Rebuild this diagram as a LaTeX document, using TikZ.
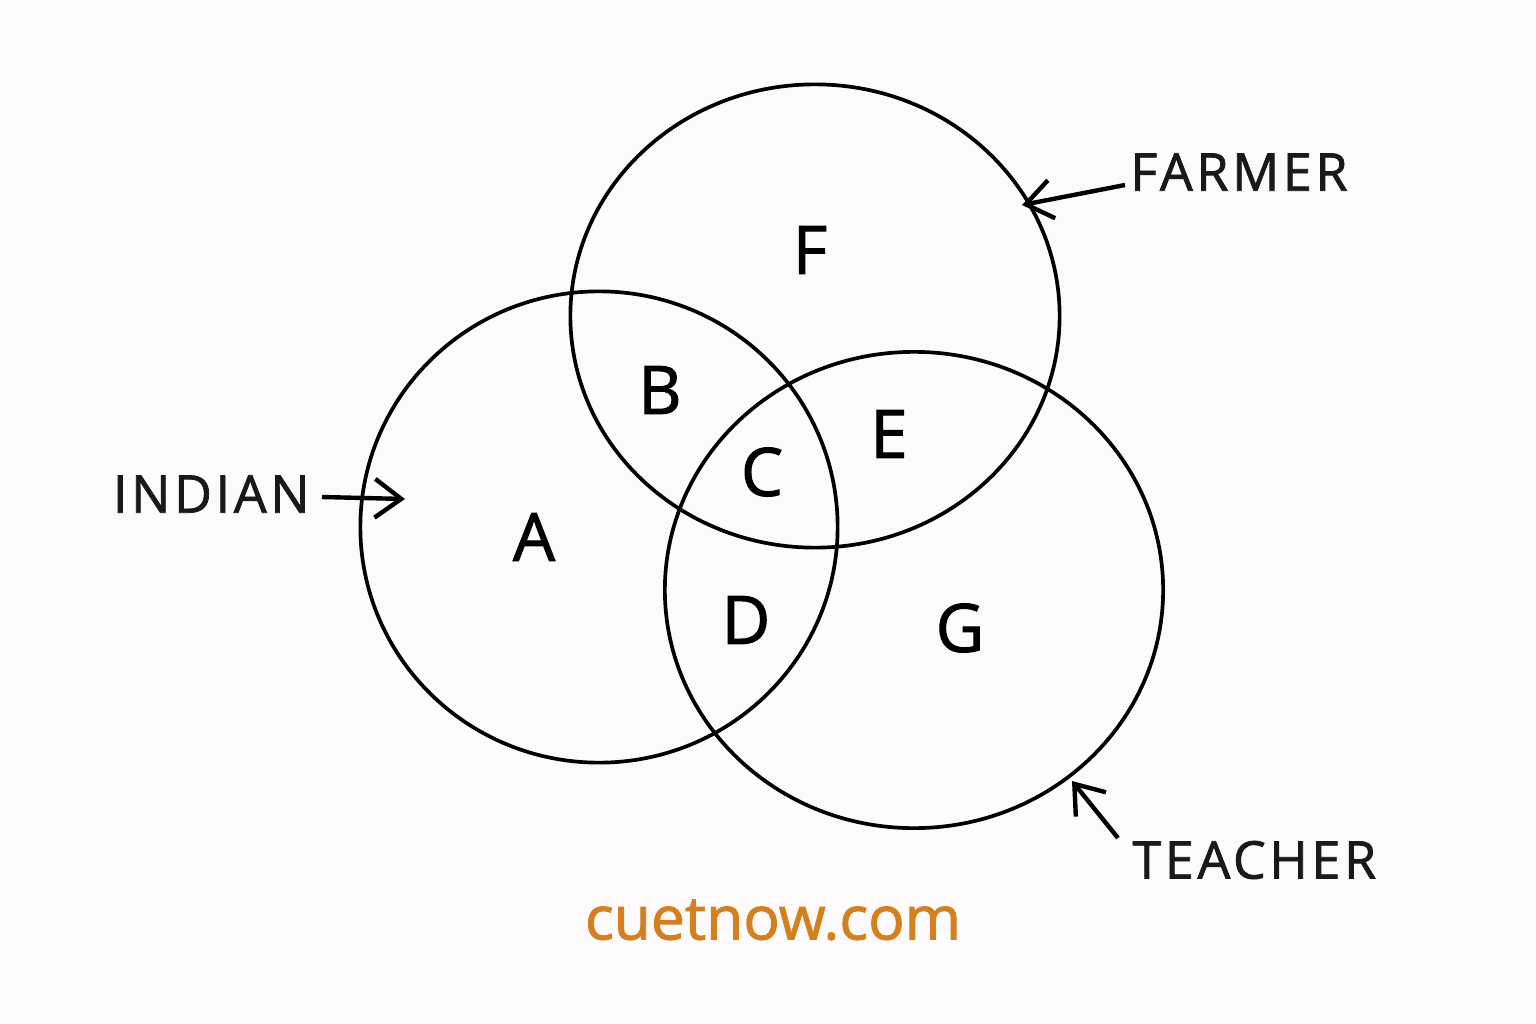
\documentclass[tikz,border=0pt]{standalone}
\usepackage{fontspec}
\setmainfont{Open Sans}
\newfontfamily\labelfont[LetterSpace=7,FakeBold=1.4]{Open Sans}
\newfontfamily\markfont[FakeBold=1.5]{Open Sans}
\usetikzlibrary{arrows.meta,shapes.geometric}
\definecolor{paper}{HTML}{FCFAFB}
\definecolor{site}{HTML}{D4801F}

\begin{document}
\begin{tikzpicture}[
	x=0.01cm,
	y=-0.01cm,
	set/.style={
		ellipse,
		draw,
		line width=1.05pt,
		inner sep=0pt
	},
	region/.style={font=\markfont\fontsize{19}{22}\selectfont},
	tag/.style={font=\labelfont\fontsize{14.8}{17}\selectfont, text=black!90},
	pointer/.style={->, >={Straight Barb[length=7.5pt,width=11pt]}, line width=1.25pt}]

   \fill[paper] (0,0) rectangle (1536,1024);
   \useasboundingbox (0,0) rectangle (1536,1024);

   % the three sets
   \node[set, minimum width=4.77cm, minimum height=4.71cm] (indian) at (599,527) {};
   \node[set, minimum width=4.89cm, minimum height=4.63cm] (farmer) at (815,316) {};
   \node[set, minimum width=4.98cm, minimum height=4.76cm] (teacher) at (914,590) {};

   % regions
   \node[region] (F) at (810,250) {F};
   \node[region] (B) at (660,390) {B};
   \node[region] (C) at (762,472) {C};
   \node[region] (E) at (889,434) {E};
   \node[region] (A) at (534,537) {A};
   \node[region] (D) at (746,620) {D};
   \node[region] (G) at (960,628) {G};

   % labels
   \node[tag, anchor=east] (lindian) at (322,494) {INDIAN};
   \node[tag, anchor=west] (lfarmer) at (1118,172) {FARMER};
   \node[tag, anchor=west] (lteacher) at (1120,860) {TEACHER};
   \coordinate (pindian) at (405,499);
   \coordinate (pfarmer) at (1022,205);
   \coordinate (pteacher) at (1072,781);
   \draw[pointer] (322,497) -- (pindian);
   \draw[pointer] (1125,185) -- (pfarmer);
   \draw[pointer] (1118,838) -- (pteacher);

   \node[font=\markfont\fontsize{17.2}{20}\selectfont, text=site] (web) at (773,920) {cuetnow.com};
\end{tikzpicture}
\end{document}
